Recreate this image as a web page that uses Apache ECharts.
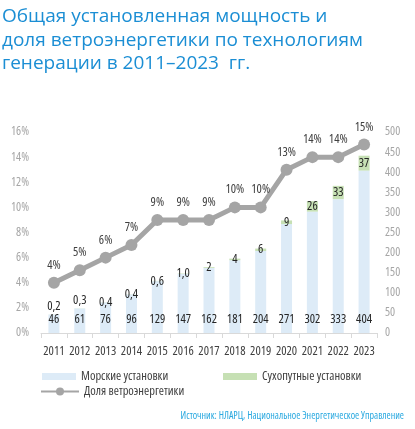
<!DOCTYPE html>
<html>
<head>
<meta charset="utf-8">
<script src="https://cdn.jsdelivr.net/npm/echarts@6/dist/echarts.min.js"></script>
<style>
html,body{margin:0;padding:0;background:#fff;}
#chart{width:415px;height:429px;}
</style>
</head>
<body>
<div id="chart"></div>
<script>
const years = ['2011','2012','2013','2014','2015','2016','2017','2018','2019','2020','2021','2022','2023'];
const offshore = [46, 61, 76, 96, 129, 147, 162, 181, 204, 271, 302, 333, 404];
const onshore = [0.2, 0.3, 0.4, 0.4, 0.6, 1.0, 2, 4, 6, 9, 26, 33, 37];
const share = [4, 5, 6, 7, 9, 9, 9, 10, 10, 13, 14, 14, 15];
const seriesNames = ['Морские установки', 'Сухопутные установки', 'Доля ветроэнергетики'];
const titleText = 'Общая установленная мощность и\nдоля ветроэнергетики по технологиям\nгенерации в 2011–2023  гг.';
const sourceText = 'Источник: НЛАРЦ, Национальное Энергетическое Управление';

// condensed face of Open Sans (font-stretch via the canvas font shorthand)
const NF = '"Open Sans", "DejaVu Sans Condensed", sans-serif';
const NW = 'condensed';

function fmtNum(v) {
  const s = v < 2 ? v.toFixed(1) : String(v);
  return s.replace('.', ',');
}

const onshoreData = onshore.map((v, i) => {
  const small = offshore[i] < 70;
  return {
    value: v,
    label: small ? { position: 'top', distance: 1 } : { position: 'inside' }
  };
});

const chart = echarts.init(document.getElementById('chart'));
chart.setOption({
  animation: false,
  backgroundColor: '#fff',
  title: [
    {
      text: titleText,
      left: 2, top: 5,
      textStyle: { color: '#1b8ed4', fontSize: 19, fontWeight: 'normal', fontFamily: '"Open Sans", sans-serif', lineHeight: 23.5 },
      padding: 0
    },
    {
      text: sourceText,
      right: 11, top: 411,
      textStyle: { color: '#2aa9e0', fontSize: 10, fontWeight: NW, fontFamily: NF },
      padding: 0
    }
  ],
  legend: [
    {
      data: [seriesNames[0]], left: 42, top: 370, padding: 0,
      itemWidth: 34, itemHeight: 7, icon: 'rect',
      textStyle: { color: '#404040', fontSize: 12.5, fontWeight: NW, fontFamily: NF }
    },
    {
      data: [seriesNames[1]], left: 223, top: 370, padding: 0,
      itemWidth: 34, itemHeight: 7, icon: 'rect',
      textStyle: { color: '#404040', fontSize: 12.5, fontWeight: NW, fontFamily: NF }
    },
    {
      data: [seriesNames[2]], left: 40, top: 385, padding: 0,
      itemWidth: 38, itemHeight: 10,
      textStyle: { color: '#404040', fontSize: 12.5, fontWeight: NW, fontFamily: NF }
    }
  ],
  grid: { left: 41, right: 38, top: 132, bottom: 96, containLabel: false },
  xAxis: {
    type: 'category',
    data: years,
    axisLine: { lineStyle: { color: '#d9d9d9' } },
    axisTick: { show: true, length: 5, lineStyle: { color: '#d9d9d9' } },
    axisLabel: { color: '#404040', fontSize: 12.5, fontWeight: NW, fontFamily: NF, margin: 12, interval: 0 }
  },
  yAxis: [
    {
      type: 'value', min: 0, max: 16, interval: 2,
      splitLine: { show: false },
      axisLine: { show: false }, axisTick: { show: false },
      axisLabel: { formatter: '{value}%', color: '#a6a6a6', fontSize: 12, fontWeight: NW, fontFamily: NF, margin: 12 }
    },
    {
      type: 'value', min: 0, max: 500, interval: 50,
      splitLine: { show: false },
      axisLine: { show: false }, axisTick: { show: false },
      axisLabel: { color: '#a6a6a6', fontSize: 12, fontWeight: NW, fontFamily: NF, margin: 8, align: 'left' }
    }
  ],
  series: [
    {
      name: seriesNames[0], type: 'bar', stack: 'cap', yAxisIndex: 1,
      data: offshore, barWidth: 11,
      itemStyle: { color: '#ddebf7' },
      label: { show: true, position: 'insideBottom', distance: 7, color: '#262626', fontSize: 12.5, fontWeight: NW, fontFamily: NF }
    },
    {
      name: seriesNames[1], type: 'bar', stack: 'cap', yAxisIndex: 1,
      data: onshoreData, barWidth: 11,
      itemStyle: { color: '#c6e0b4' },
      label: { show: true, color: '#262626', fontSize: 12.5, fontWeight: NW, fontFamily: NF, formatter: p => fmtNum(p.value) }
    },
    {
      name: seriesNames[2], type: 'line', yAxisIndex: 0,
      data: share, z: 5,
      symbol: 'circle', symbolSize: 12,
      lineStyle: { color: '#a5a5a5', width: 5 },
      itemStyle: { color: '#a5a5a5' },
      label: { show: true, position: 'top', distance: 5, color: '#404040', fontSize: 12.5, fontWeight: NW, fontFamily: NF, formatter: '{c}%' }
    }
  ]
});
</script>
</body>
</html>
